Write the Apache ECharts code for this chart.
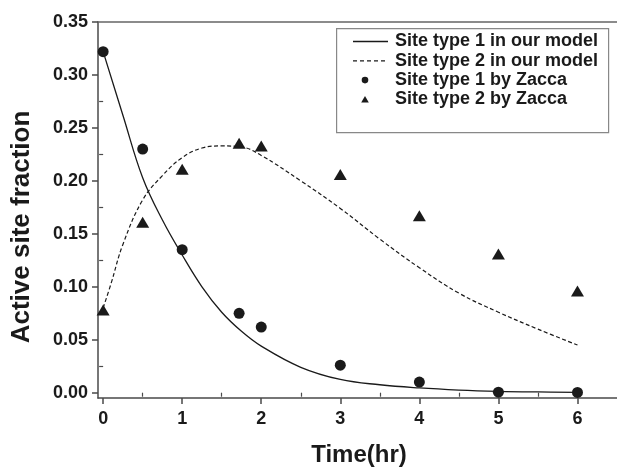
<!DOCTYPE html>
<html>
<head>
<meta charset="utf-8">
<script src="https://cdn.jsdelivr.net/npm/echarts@6/dist/echarts.min.js"></script>
<style>
html,body{margin:0;padding:0;background:#fff;}
#chart{width:617px;height:467px;}
</style>
</head>
<body>
<div id="chart"></div>
<script>
// ---- data ----
const zaccaTime = [0, 0.5, 1, 1.72, 2, 3, 4, 5, 6];
const site1Zacca = [0.322, 0.230, 0.135, 0.075, 0.062, 0.026, 0.010, 0.0005, 0.0003];
const site2Zacca = [0.078, 0.161, 0.211, 0.2355, 0.233, 0.206, 0.167, 0.131, 0.096];

const model1Time = [0, 0.25, 0.5, 0.75, 1, 1.25, 1.5, 1.75, 2, 2.5, 3, 3.5, 4, 4.5, 5, 5.5, 6];
const model1 = [0.322, 0.262, 0.203, 0.163, 0.130, 0.100, 0.076, 0.058, 0.044, 0.024, 0.0125, 0.0075, 0.0045, 0.0025, 0.0013, 0.0007, 0.0004];

const model2Time = [0, 0.1, 0.25, 0.5, 0.75, 1, 1.25, 1.5, 1.75, 2, 2.5, 3, 3.5, 4, 4.5, 5, 5.5, 6];
const model2 = [0.080, 0.103, 0.140, 0.182, 0.205, 0.222, 0.231, 0.233, 0.232, 0.224, 0.200, 0.174, 0.145, 0.118, 0.094, 0.076, 0.060, 0.045];

const xTicks = [0, 1, 2, 3, 4, 5, 6];
const xMinorTicks = [0.5, 1.5, 2.5, 3.5, 4.5, 5.5];
const yTicks = [0, 0.05, 0.10, 0.15, 0.20, 0.25, 0.30, 0.35];
const yTickLabels = ['0.00', '0.05', '0.10', '0.15', '0.20', '0.25', '0.30', '0.35'];
const yMinorTicks = [0.025, 0.075, 0.125, 0.175, 0.225, 0.275, 0.325];

const seriesNames = ['Site type 1 in our model', 'Site type 2 in our model', 'Site type 1 by Zacca', 'Site type 2 by Zacca'];
const xTitle = 'Time(hr)';
const yTitle = 'Active site fraction';

// ---- chart ----
const FONT = 'Liberation Sans, Arial, sans-serif';
const INK = '#1a1a1a';
const AXIS = '#4a4a4a';
const zip = (xs, ys) => xs.map((x, i) => [x, ys[i]]);

const chart = echarts.init(document.getElementById('chart'), null, {renderer: 'canvas'});
const X_MIN = -0.065, X_MAX = 6.5, Y_MIN = -0.005, Y_MAX = 0.35;

// hand-drawn legend (icons + text)
const LEG_X = 353, LEG_ICON_W = 35, LEG_TEXT_X = 395, LEG_ROW0 = 41.5, LEG_ROW_H = 19.3;
const legendGraphics = [
  {type: 'rect', left: 336, top: 28, shape: {width: 272, height: 104}, style: {fill: '#fff', stroke: '#888', lineWidth: 1.2}, z: 100, silent: true}
];
seriesNames.forEach((name, i) => {
  const cy = LEG_ROW0 + i * LEG_ROW_H;
  if (i === 0) {
    legendGraphics.push({type: 'line', z: 101, shape: {x1: LEG_X, y1: cy, x2: LEG_X + LEG_ICON_W, y2: cy}, style: {stroke: INK, lineWidth: 1.3}});
  } else if (i === 1) {
    legendGraphics.push({type: 'line', z: 101, shape: {x1: LEG_X, y1: cy, x2: LEG_X + LEG_ICON_W, y2: cy}, style: {stroke: INK, lineWidth: 1.2, lineDash: [4, 3]}});
  } else if (i === 2) {
    legendGraphics.push({type: 'circle', z: 101, shape: {cx: 365, cy: cy, r: 3.3}, style: {fill: INK}});
  } else {
    legendGraphics.push({type: 'polygon', z: 101, shape: {points: [[365, cy - 3.3], [368.8, cy + 3], [361.2, cy + 3]]}, style: {fill: INK}});
  }
  legendGraphics.push({type: 'text', z: 101, x: LEG_TEXT_X, y: cy, style: {text: name, fill: INK, font: 'bold 18px ' + FONT, textAlign: 'left', textVerticalAlign: 'middle'}});
});

chart.setOption({
  animation: false,
  backgroundColor: '#fff',
  grid: {left: 98, right: 0, top: 22, bottom: 69, containLabel: false},
  xAxis: [
    {
      type: 'value', min: X_MIN, max: X_MAX, position: 'bottom',
      axisLine: {show: true, onZero: false, lineStyle: {color: AXIS, width: 1.5}},
      axisTick: {show: true, length: 6, inside: false, customValues: xTicks, lineStyle: {color: AXIS, width: 1.5}},
      axisLabel: {show: true, customValues: xTicks, margin: 12, color: INK, fontFamily: FONT, fontWeight: 'bold', fontSize: 18,
                  formatter: v => String(Math.round(v))},
      splitLine: {show: false}
    },
    {
      type: 'value', min: X_MIN, max: X_MAX, position: 'bottom',
      axisLine: {show: false},
      axisTick: {show: true, length: 4, customValues: xMinorTicks, lineStyle: {color: AXIS, width: 1.2}},
      axisLabel: {show: false},
      splitLine: {show: false}
    },
    {
      type: 'value', min: X_MIN, max: X_MAX, position: 'top',
      axisLine: {show: true, onZero: false, lineStyle: {color: '#666', width: 1.5}},
      axisTick: {show: false}, axisLabel: {show: false}, splitLine: {show: false}
    }
  ],
  yAxis: [
    {
      type: 'value', min: Y_MIN, max: Y_MAX, position: 'left',
      axisLine: {show: true, onZero: false, lineStyle: {color: AXIS, width: 1.5}},
      axisTick: {show: true, length: 6, customValues: yTicks, lineStyle: {color: AXIS, width: 1.5}},
      axisLabel: {show: true, customValues: yTicks, margin: 10, color: INK, fontFamily: FONT, fontWeight: 'bold', fontSize: 18,
                  formatter: v => { const i = yTicks.findIndex(t => Math.abs(t - v) < 1e-9); return i >= 0 ? yTickLabels[i] : ''; }},
      splitLine: {show: false}
    },
    {
      type: 'value', min: Y_MIN, max: Y_MAX, position: 'left',
      axisLine: {show: false},
      axisTick: {show: true, length: 4, customValues: yMinorTicks, lineStyle: {color: AXIS, width: 1.2}},
      axisLabel: {show: false},
      splitLine: {show: false}
    }
  ],
  graphic: legendGraphics.concat([
    {type: 'text', x: 359, y: 455, style: {text: xTitle, fill: INK, font: 'bold 24px ' + FONT, textAlign: 'center', textVerticalAlign: 'middle'}},
    {type: 'text', x: 22, y: 227, rotation: Math.PI / 2, style: {text: yTitle, fill: INK, font: 'bold 26px ' + FONT, textAlign: 'center', textVerticalAlign: 'middle'}}
  ]),
  series: [
    {
      name: seriesNames[0], type: 'line', xAxisIndex: 0, yAxisIndex: 0,
      data: zip(model1Time, model1), smooth: 0.4, symbol: 'none',
      lineStyle: {color: INK, width: 1.3, type: 'solid'}, itemStyle: {color: INK}, z: 2
    },
    {
      name: seriesNames[1], type: 'line', xAxisIndex: 0, yAxisIndex: 0,
      data: zip(model2Time, model2), smooth: 0.4, symbol: 'none',
      lineStyle: {color: INK, width: 1.2, type: [4, 2.5]}, itemStyle: {color: INK}, z: 2
    },
    {
      name: seriesNames[2], type: 'scatter', xAxisIndex: 0, yAxisIndex: 0,
      data: zip(zaccaTime, site1Zacca), symbol: 'circle', symbolSize: 11,
      itemStyle: {color: INK, opacity: 1}, z: 3
    },
    {
      name: seriesNames[3], type: 'scatter', xAxisIndex: 0, yAxisIndex: 0,
      data: zip(zaccaTime, site2Zacca), symbol: 'triangle', symbolSize: [13, 11],
      itemStyle: {color: INK, opacity: 1}, z: 3
    }
  ]
});
</script>
</body>
</html>
